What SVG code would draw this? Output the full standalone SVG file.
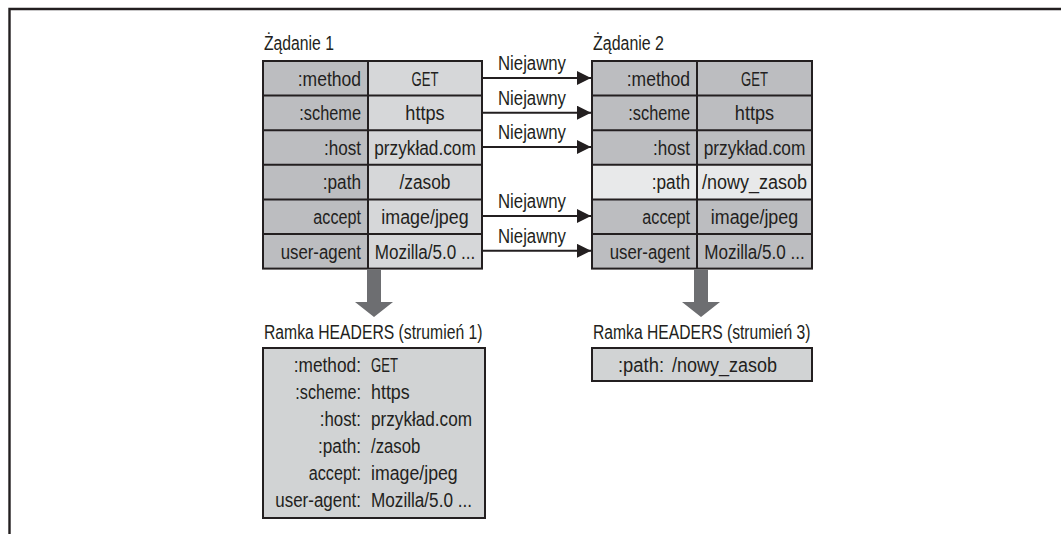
<svg xmlns="http://www.w3.org/2000/svg" width="1061" height="534" viewBox="0 0 1061 534">
  <defs>
    <style>
      text { font-family: "Liberation Sans", Arial, sans-serif; font-size: 20px; fill: #231f20; }
      .r { text-anchor: end; }
      .m { text-anchor: middle; }
      .dk { fill: #bcbdc0; }
      .lt { fill: #d6d7d9; }
      .xl { fill: #e8e9ea; }
      .box { fill: #d1d3d4; stroke: #231f20; stroke-width: 2; }
      .grid { stroke: #231f20; stroke-width: 2; fill: none; }
      .conn { stroke: #231f20; stroke-width: 2; fill: none; }
      .fat { fill: #6d6e71; }
      .frame { stroke: #231f20; stroke-width: 2.4; fill: none; }
    </style>
    <marker id="ah" markerUnits="userSpaceOnUse" markerWidth="14" markerHeight="14" refX="14" refY="7" orient="auto">
      <path d="M0,0 L14,7 L0,14 z" fill="#231f20"/>
    </marker>
  </defs>
  <rect x="0" y="0" width="1061" height="534" fill="#ffffff"/>
  <path class="frame" d="M9.5,534 L9.5,9 L1061,9"/>

  <g id="request1">
    <text x="264" y="50" textLength="70" lengthAdjust="spacingAndGlyphs">Żądanie 1</text>
    <rect class="dk" x="263" y="61" width="105" height="207.6"/>
    <rect class="lt" x="368" y="61" width="114" height="207.6"/>
    <rect class="grid" x="263" y="61" width="219" height="207.6"/>
    <path class="grid" d="M368,61 V268.6 M263,95.6 H482 M263,130.2 H482 M263,164.8 H482 M263,199.4 H482 M263,234 H482"/>
    <text class="r" x="361" y="85.5" textLength="63.3" lengthAdjust="spacingAndGlyphs">:method</text>
    <text class="r" x="361" y="120.1" textLength="61.7" lengthAdjust="spacingAndGlyphs">:scheme</text>
    <text class="r" x="361" y="154.7" textLength="37" lengthAdjust="spacingAndGlyphs">:host</text>
    <text class="r" x="361" y="189.3" textLength="38.3" lengthAdjust="spacingAndGlyphs">:path</text>
    <text class="r" x="361" y="223.9" textLength="47.7" lengthAdjust="spacingAndGlyphs">accept</text>
    <text class="r" x="361" y="258.5" textLength="80.3" lengthAdjust="spacingAndGlyphs">user-agent</text>
    <text class="m" x="425" y="85.5" textLength="27" lengthAdjust="spacingAndGlyphs">GET</text>
    <text class="m" x="425" y="120.1" textLength="39.3" lengthAdjust="spacingAndGlyphs">https</text>
    <text class="m" x="425" y="154.7" textLength="101.7" lengthAdjust="spacingAndGlyphs">przykład.com</text>
    <text class="m" x="425" y="189.3" textLength="51" lengthAdjust="spacingAndGlyphs">/zasob</text>
    <text class="m" x="425" y="223.9" textLength="87.3" lengthAdjust="spacingAndGlyphs">image/jpeg</text>
    <text class="m" x="425" y="258.5" textLength="100.7" lengthAdjust="spacingAndGlyphs">Mozilla/5.0 ...</text>
  </g>

  <g id="request2">
    <text x="593" y="50" textLength="71" lengthAdjust="spacingAndGlyphs">Żądanie 2</text>
    <rect class="dk" x="592" y="61" width="220" height="207.6"/>
    <rect class="xl" x="592" y="164.8" width="220" height="34.6"/>
    <rect class="grid" x="592" y="61" width="220" height="207.6"/>
    <path class="grid" d="M697,61 V268.6 M592,95.6 H812 M592,130.2 H812 M592,164.8 H812 M592,199.4 H812 M592,234 H812"/>
    <text class="r" x="690" y="85.5" textLength="63.3" lengthAdjust="spacingAndGlyphs">:method</text>
    <text class="r" x="690" y="120.1" textLength="61.7" lengthAdjust="spacingAndGlyphs">:scheme</text>
    <text class="r" x="690" y="154.7" textLength="37" lengthAdjust="spacingAndGlyphs">:host</text>
    <text class="r" x="690" y="189.3" textLength="38.3" lengthAdjust="spacingAndGlyphs">:path</text>
    <text class="r" x="690" y="223.9" textLength="47.7" lengthAdjust="spacingAndGlyphs">accept</text>
    <text class="r" x="690" y="258.5" textLength="80.3" lengthAdjust="spacingAndGlyphs">user-agent</text>
    <text class="m" x="754.5" y="85.5" textLength="27" lengthAdjust="spacingAndGlyphs">GET</text>
    <text class="m" x="754.5" y="120.1" textLength="39.3" lengthAdjust="spacingAndGlyphs">https</text>
    <text class="m" x="754.5" y="154.7" textLength="101.7" lengthAdjust="spacingAndGlyphs">przykład.com</text>
    <text class="m" x="754.5" y="189.3" textLength="105" lengthAdjust="spacingAndGlyphs">/nowy_zasob</text>
    <text class="m" x="754.5" y="223.9" textLength="87.3" lengthAdjust="spacingAndGlyphs">image/jpeg</text>
    <text class="m" x="754.5" y="258.5" textLength="100.7" lengthAdjust="spacingAndGlyphs">Mozilla/5.0 ...</text>
  </g>

  <g id="frame1">
    <text x="264" y="338.5" textLength="218.5" lengthAdjust="spacingAndGlyphs">Ramka HEADERS (strumień 1)</text>
    <rect class="box" x="263" y="348" width="222" height="170"/>
    <text class="r" x="361" y="371.7" textLength="67.3" lengthAdjust="spacingAndGlyphs">:method:</text>
    <text class="r" x="361" y="398.5" textLength="65.7" lengthAdjust="spacingAndGlyphs">:scheme:</text>
    <text class="r" x="361" y="425.5" textLength="41.3" lengthAdjust="spacingAndGlyphs">:host:</text>
    <text class="r" x="361" y="452.5" textLength="43" lengthAdjust="spacingAndGlyphs">:path:</text>
    <text class="r" x="361" y="479.5" textLength="52.3" lengthAdjust="spacingAndGlyphs">accept:</text>
    <text class="r" x="361" y="506.5" textLength="85.7" lengthAdjust="spacingAndGlyphs">user-agent:</text>
    <text x="371" y="371.7" textLength="27" lengthAdjust="spacingAndGlyphs">GET</text>
    <text x="371" y="398.5" textLength="38.7" lengthAdjust="spacingAndGlyphs">https</text>
    <text x="371" y="425.5" textLength="101" lengthAdjust="spacingAndGlyphs">przykład.com</text>
    <text x="371" y="452.5" textLength="49.3" lengthAdjust="spacingAndGlyphs">/zasob</text>
    <text x="371" y="479.5" textLength="86.7" lengthAdjust="spacingAndGlyphs">image/jpeg</text>
    <text x="371" y="506.5" textLength="101" lengthAdjust="spacingAndGlyphs">Mozilla/5.0 ...</text>
  </g>

  <g id="frame3">
    <text x="593" y="338.5" textLength="217.5" lengthAdjust="spacingAndGlyphs">Ramka HEADERS (strumień 3)</text>
    <rect class="box" x="592" y="348" width="220" height="33"/>
    <text class="r" x="664" y="371.7" textLength="46" lengthAdjust="spacingAndGlyphs">:path:</text>
    <text x="672" y="371.7" textLength="105" lengthAdjust="spacingAndGlyphs">/nowy_zasob</text>
  </g>

  <g id="connectors">
    <line class="conn" x1="483" y1="78" x2="591" y2="78" marker-end="url(#ah)"/>
    <line class="conn" x1="483" y1="112.7" x2="591" y2="112.7" marker-end="url(#ah)"/>
    <line class="conn" x1="483" y1="147" x2="591" y2="147" marker-end="url(#ah)"/>
    <line class="conn" x1="483" y1="216" x2="591" y2="216" marker-end="url(#ah)"/>
    <line class="conn" x1="483" y1="250.8" x2="591" y2="250.8" marker-end="url(#ah)"/>
    <text x="498" y="70" textLength="68" lengthAdjust="spacingAndGlyphs">Niejawny</text>
    <text x="498" y="104.5" textLength="68" lengthAdjust="spacingAndGlyphs">Niejawny</text>
    <text x="498" y="139" textLength="68" lengthAdjust="spacingAndGlyphs">Niejawny</text>
    <text x="498" y="208" textLength="68" lengthAdjust="spacingAndGlyphs">Niejawny</text>
    <text x="498" y="243" textLength="68" lengthAdjust="spacingAndGlyphs">Niejawny</text>
    <polygon class="fat" points="367,269.6 381,269.6 381,302 393,302 374,317 355,302 367,302"/>
    <polygon class="fat" points="694,269.6 708,269.6 708,302 720,302 701,317 682,302 694,302"/>
  </g>
</svg>
